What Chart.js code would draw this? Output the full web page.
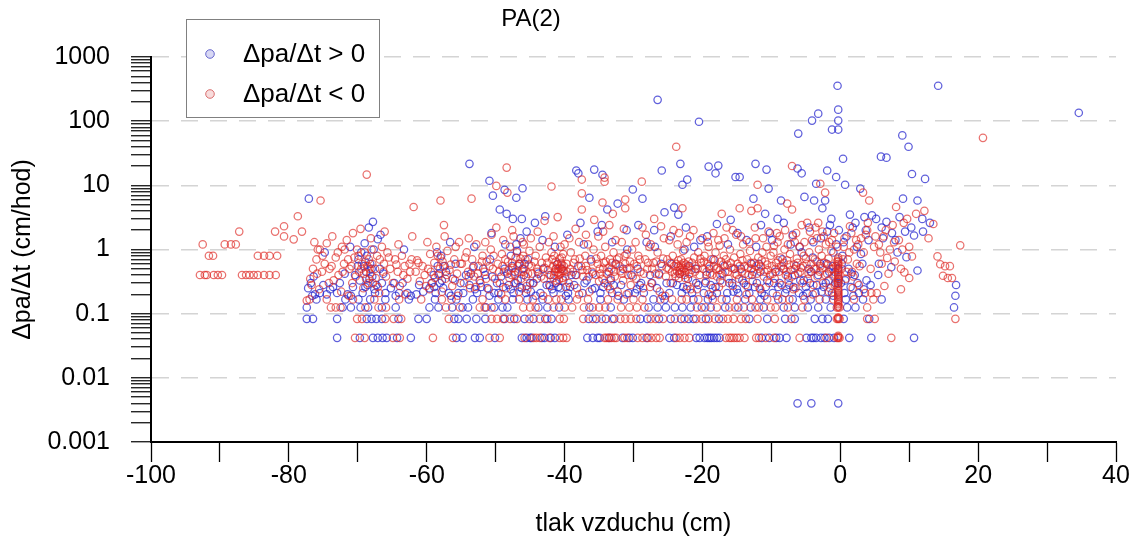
<!DOCTYPE html>
<html>
<head>
<meta charset="utf-8">
<script src="https://cdn.jsdelivr.net/npm/chart.js@4.4.1/dist/chart.umd.min.js"></script>
<style>
body{margin:0;background:#fff;}
#wrap{width:1137px;height:542px;}
</style>
</head>
<body>
<div id="wrap"><canvas id="myChart" width="1137" height="542"></canvas></div>
<script>
const chartTitle = 'PA(2)';
const xAxisTitle = 'tlak vzduchu (cm)';
const yAxisTitle = 'Δpa/Δt (cm/hod)';
const seriesNames = ['Δpa/Δt > 0', 'Δpa/Δt < 0'];
const xMin = -100, xMax = 40, xStep = 10, xLabelStep = 20;
const yDecades = [0.001, 0.01, 0.1, 1, 10, 100, 1000];

// quantised low rows (cm/hod) and the x positions sitting on them
const rowLevels = [0.042, 0.083, 0.125, 0.167];
const blueRowX = [
  [-73.0,-69.7,-67.8,-67.1,-66.4,-65.8,-64.3,-62.3,-55.7,-54.8,-53.0,-52.3,-50.1,-46.2,-45.5,-45.0,-44.8,-43.3,-42.9,-42.0,-41.4,-36.7,-35.9,-35.2,-34.9,-33.5,-31.6,-30.6,-30.1,-28.1,-24.8,-24.1,-20.9,-20.4,-19.7,-19.3,-19.0,-18.7,-18.3,-17.9,-17.5,-11.4,-10.3,-9.3,-8.8,-7.8,-4.9,-4.2,-3.9,-3.5,-2.8,-2.3,-1.6,-0.9,1.3,4.5,10.7],
  [-77.4,-76.5,-73.0,-68.7,-68.0,-67.3,-66.5,-64.1,-61.2,-60.0,-56.0,-55.4,-54.2,-52.8,-51.5,-48.7,-47.3,-45.8,-44.5,-42.8,-41.9,-36.5,-35.4,-34.0,-32.8,-29.0,-28.0,-26.3,-24.6,-23.1,-22.0,-21.3,-19.5,-17.6,-13.2,-10.6,-8.0,-6.6,-3.7,-2.6,-1.8,0.5,4.2],
  [-77.4,-72.2,-71.0,-69.6,-68.5,-66.5,-64.5,-59.6,-58.3,-56.3,-54.8,-54.0,-51.4,-50.2,-49.0,-48.3,-43.8,-42.5,-40.8,-36.4,-33.3,-27.8,-26.5,-25.3,-24.0,-22.9,-21.7,-20.1,-18.8,-16.7,-14.8,-13.0,-11.1,-8.2,-6.6,-4.7,-3.2,-1.4,1.0,2.2,16.5],
  [-76.0,-71.8,-69.9,-68.2,-66.0,-62.6,-58.8,-55.7,-53.3,-49.6,-47.5,-45.4,-43.2,-39.4,-34.8,-31.4,-27.1,-25.5,-21.3,-19.2,-16.5,-13.8,-11.6,-9.0,-6.9,-4.3,-2.1,0.8,3.3,6.0]
];
const redRowX = [
  [-70.4,-69.0,-64.9,-63.9,-59.1,-56.2,-50.9,-49.4,-45.8,-44.5,-44.1,-43.6,-42.2,-40.7,-40.2,-39.7,-34.2,-33.9,-33.6,-33.2,-32.8,-32.5,-31.3,-30.9,-29.4,-28.7,-27.9,-27.4,-26.7,-26.2,-23.8,-23.3,-22.6,-21.9,-16.6,-16.1,-15.8,-15.4,-15.0,-14.6,-13.9,-12.2,-11.8,-10.8,-9.6,-5.9,-2.0,7.4],
  [-70.1,-69.4,-66.0,-64.8,-63.7,-56.8,-50.6,-49.8,-48.9,-47.9,-46.9,-45.1,-43.6,-42.5,-40.7,-40.1,-37.3,-35.9,-34.6,-33.1,-31.9,-31.2,-30.4,-29.6,-27.5,-26.8,-25.7,-24.0,-22.6,-20.9,-20.1,-19.1,-18.2,-17.0,-16.3,-15.5,-14.4,-13.7,-12.0,-9.5,-7.1,3.9,5.0,16.7],
  [-73.9,-73.2,-72.5,-68.9,-67.0,-65.9,-57.2,-55.2,-52.3,-51.6,-50.6,-46.0,-45.0,-44.2,-41.6,-40.0,-38.9,-37.2,-35.9,-35.0,-34.1,-31.8,-30.6,-29.5,-28.4,-20.8,-19.6,-17.9,-16.1,-15.3,-14.0,-12.3,-11.8,-10.1,-9.4,-7.6,-5.5,3.9],
  [-77.0,-74.5,-70.7,-67.6,-64.0,-60.8,-57.8,-56.4,-51.9,-48.6,-46.6,-44.6,-42.4,-41.2,-40.5,-38.2,-36.6,-33.7,-32.3,-30.0,-28.7,-26.1,-24.4,-23.0,-22.3,-20.6,-18.5,-17.2,-15.0,-12.8,-10.6,-8.4,-7.4,-5.2,-3.0,-1.0,2.0,4.8]
];

// dense red column at zero pressure
const redZeroX = -0.3;
const redZeroY = [0.042,0.043,0.045,0.083,0.085,0.088,0.125,0.13,0.14,0.15,0.16,0.17,0.18,0.19,0.2,0.21,0.22,0.23,0.25,0.27,0.29,0.31,0.33,0.35,0.375,0.4,0.42,0.45,0.48,0.52,0.56,0.6,0.65,0.7,0.75];

const blueCloud = [
  [-77.2,0.25],[-76.8,0.3],[-76.2,0.2],[-75.5,0.21],[-74.5,0.2],[-73,0.21],[-72.6,0.3],[-71.5,0.2],[-70.4,0.4],[-70,0.55],[-69.7,0.33],[-69.3,0.21],[-69,1.25],[-68.8,0.45],[-68.6,0.28],[-68.4,2.2],[-68.2,0.6],[-67.9,0.38],[-67.8,2.7],[-67.5,0.21],[-67.1,1.45],[-66.8,0.5],[-66.5,0.3],[-66,0.21],[-65.2,0.25],[-64,0.21],[-63.5,0.3],[-62.8,0.21],[-62.3,0.19],[-61.5,0.2],
  [-59.6,0.25],[-59,0.4],[-58.7,0.21],[-58.4,0.55],[-58.1,0.3],[-57.9,0.8],[-57.6,0.25],[-57.2,0.45],[-56.8,0.21],[-56.2,0.35],[-55.8,0.6],[-55.4,0.21],
  [-54.7,0.21],[-54.3,0.4],[-53.8,0.28],[-53.2,0.55],[-52.7,0.21],[-52.3,0.33],[-51.8,0.5],[-51.2,0.25],[-50.8,0.7],[-50.5,0.38],[-50.2,0.21],[-49.4,4.2],
  [-49.6,0.21],[-49.2,0.38],[-48.7,0.5],[-48.4,3.6],[-48.1,0.28],[-47.8,0.8],[-47.5,3.0],[-47.4,0.21],[-47.2,0.45],[-47,1.2],[-46.8,0.33],[-46.6,0.6],[-46.4,1.5],[-46.2,3.0],[-46.2,0.25],[-45.9,0.4],[-45.6,0.21],[-45.3,0.7],[-45,0.3],
  [-44.9,0.22],[-44.3,2.6],[-44,0.35],[-43.5,0.21],[-43.1,0.5],[-42.8,3.3],[-42.6,0.28],[-42,0.4],[-41.6,0.21],[-41,0.6],[-40.6,0.25],[-40.2,0.33],
  [-39.5,0.21],[-39,0.4],[-38.6,0.28],[-38,0.55],[-37.7,2.6],[-37.4,0.21],[-36.8,0.33],[-36.4,6.4],[-36.2,0.7],[-35.6,0.25],
  [-34.8,0.21],[-34.6,2.4],[-34.2,0.3],[-33.8,4.2],[-33.6,0.45],[-33.1,0.21],[-32.6,0.6],[-32.3,5.2],[-31.8,0.28],[-31,2.0],[-30.7,0.21],[-30.3,0.4],
  [-29.8,0.21],[-29.4,0.5],[-28.9,0.3],[-28.5,0.21],[-28.1,1.3],[-27.6,0.4],[-27,2.0],[-26.6,0.25],[-26,0.6],[-25.5,3.8],[-25.2,0.3],
  [-24.8,0.21],[-24.5,0.6],[-24.1,4.5],[-23.7,0.28],[-23.5,3.5],[-23,0.21],[-22.6,1.0],[-22.1,0.35],[-21.5,0.21],[-21,0.5],[-20.6,0.28],[-20.3,1.4],
  [-19.8,0.21],[-19.4,0.4],[-18.8,0.28],[-18.4,0.7],[-17.9,0.21],[-17.4,0.33],[-16.8,0.55],[-16.4,0.21],[-15.9,2.9],[-15.7,0.3],[-15.3,0.5],[-15,0.24],
  [-14.8,0.21],[-14.4,0.5],[-14,0.3],[-13.6,1.4],[-13.2,0.21],[-12.8,0.4],[-12.4,0.26],[-11.8,0.6],[-11.4,0.21],[-10.9,3.6],[-10.6,0.33],[-10.4,8.9],[-10.2,1.8],[-12.6,6.2],
  [-9.8,0.21],[-9.4,0.45],[-9.1,3.0],[-8.8,0.3],[-8.6,5.8],[-8.4,0.7],[-8,0.21],[-7.6,0.38],[-7.2,1.2],[-6.8,0.26],[-6.4,0.55],[-6,0.21],[-5.6,0.9],[-5.3,0.33],[-5.2,6.6],
  [-4.8,0.21],[-4.6,0.5],[-4.4,0.3],[-4,0.75],[-3.8,5.8],[-3.6,0.21],[-3.5,10.6],[-3.2,0.4],[-2.8,1.5],[-2.6,4.4],[-2.4,0.26],[-2.2,5.8],[-2,0.6],[-1.7,0.33],[-1.5,2.4],[-1.2,0.21],[-1,0.9],[-0.8,0.45],[-0.6,1.2],[-0.4,0.3],[-0.2,2.0],
  [0.1,0.3],[0.3,0.8],[0.6,0.21],[0.9,1.6],[1.2,0.5],[1.5,0.26],[1.8,2.2],[2.1,0.4],[2.4,1.1],[2.7,0.21],[2.9,8.9],[3.2,0.6],[3.5,3.2],[3.8,0.33],[4.1,1.4],
  [5.2,3.0],[5.5,0.4],[6.2,1.5],[6.7,2.7],[7.4,0.53],[7.5,1.8],[8.3,0.9],[9.1,6.2],[9.4,1.9],[9.6,0.76],
  [10.7,1.65],[11.2,5.8],[11.2,0.47],[11.9,3.0],[13,2.6],[16.8,0.28],[16.7,0.19],[12,1.9],
  // second pass through the dense band
  [-76.4,0.38],[-75,0.28],[-73.6,0.26],[-71.9,0.42],[-70.7,0.26],[-69.9,0.7],[-69.5,0.9],[-69.1,0.55],[-68.9,0.26],[-68.7,0.8],[-68.3,0.35],[-68,0.5],[-67.7,1.0],[-67.3,0.28],[-66.3,0.42],[-64.7,0.3],[-61.1,0.28],[-59.3,0.3],[-58.9,0.26],[-58.5,0.9],[-58.2,0.42],[-57.8,0.33],[-57.4,0.55],[-55.1,0.3],[-53.6,0.42],[-52.1,0.26],[-51.5,0.4],[-49.8,0.3],[-48.9,0.26],[-48.3,0.42],[-47.6,0.55],[-47.1,0.3],[-46.9,0.95],[-46.5,0.26],[-46.1,0.5],[-45.8,0.6],[-44.6,0.3],[-43.8,0.42],[-42.2,0.28],[-41.3,0.3],[-40.9,0.26],[-40.4,0.5],[-39.2,0.26],[-38.4,0.4],[-37.1,0.3],[-35.9,0.42],[-34.4,0.26],[-33.3,0.33],[-32.9,0.28],[-31.5,0.5],[-29.1,0.28],[-27.3,0.3],[-26.3,0.42],[-24.3,0.3],[-23.3,0.42],[-22.8,0.26],[-21.9,0.55],[-20.9,0.3],[-19.6,0.3],[-19,0.5],[-18.1,0.26],[-17.1,0.42],[-16.1,0.3],[-14.2,0.33],[-13.4,0.26],[-12.9,0.6],[-12.1,0.3],[-11.6,0.45],[-10.8,0.26],[-9.6,0.3],[-9,0.26],[-8.2,0.5],[-7.4,0.28],[-6.6,0.4],[-5.8,0.33],[-5,0.26],[-4.2,0.45],[-3.4,0.28],[-2.9,0.6],[-2.1,0.3],[-1.6,0.45],[-1.1,0.55],[-0.7,0.3],[-0.3,0.5],[-0.2,0.35],[0.2,0.6],[0.7,0.33],[1.6,0.42],[2.5,0.3],[3,0.85],[4.4,0.28],[5.6,0.6],
  // third pass, upper and lower edges of the band
  [-74.8,0.9],[-71.1,1.1],[-66.7,1.7],[-63.3,1.0],[-56.6,1.3],[-53.1,1.1],[-50.6,1.8],[-48.6,1.2],[-45.5,1.9],[-43.2,1.4],[-41.4,1.1],[-39.6,1.7],[-37.2,1.2],[-35.2,1.9],[-33.1,1.3],[-30.9,1.0],[-29.3,2.4],[-26.9,1.1],[-24.6,1.6],[-22.4,2.2],[-21.2,1.1],[-19.3,1.6],[-17.9,2.5],[-16.3,1.2],[-14.9,1.8],[-12.2,1.1],[-11.5,2.4],[-9.9,1.4],[-8.2,2.6],[-6.9,1.7],[-5.9,1.1],[-4.5,2.2],[-3.9,1.3],[-1.9,1.9],[-1.3,3.0],[0.5,1.3],[1.4,3.5],[2.2,2.6],[3.7,2.0],[4.6,3.4],[6,2.2],[8,1.4],[10.3,2.2],[8.6,3.2],
  [-76.6,0.19],[-74,0.24],[-71,0.19],[-67.6,0.24],[-64.5,0.19],[-60.5,0.22],[-56.5,0.19],[-53,0.24],[-50.9,0.19],[-47.8,0.24],[-44.2,0.19],[-41.8,0.24],[-39.8,0.19],[-36,0.24],[-32.2,0.19],[-29.5,0.24],[-25.8,0.19],[-22.3,0.24],[-18.6,0.19],[-15.5,0.22],[-11,0.19],[-7.8,0.24],[-5.4,0.19],[-2.7,0.22],[-1,0.19],[1.9,0.19],[3.4,0.24],
  // scattered high and low values
  [-77.1,6.2],[-53.8,21.6],[-50.9,11.8],[-50.4,6.9],[-48.7,8.5],[-47,6.4],[-46.1,9.0],[-38.3,17],[-38,15.4],[-35.7,17.6],[-34.5,14.6],[-30.1,8.6],[-28.7,6.2],[-26.5,215],[-25.9,17],[-23.2,21.6],[-22.9,10.2],[-22.2,12.3],[-20.5,98],[-19.1,19.6],[-18.1,15.4],[-17.7,20.3],[-15.2,13.5],[-14.6,13.5],[-12.3,21.6],[-10.7,17.6],[-6.2,18.3],[-5.6,15.4],[-6.1,64],[-4.1,102],[-3.2,131],[-0.4,357],[-0.3,151],[-0.3,102],[-1.2,74],[-0.3,74],[-1.9,17],[-0.6,13.5],[0.4,26],[0.7,10.2],[5.9,28],[6.7,27],[9,60],[9.9,40],[10.4,15],[12.3,12.6],[14.2,357],[34.6,135],[-6.2,0.004],[-4.2,0.004],[-0.3,0.004]
];

const redCloud = [
  // left part, only negative changes
  [-92.9,0.4],[-92.2,0.4],[-91.9,0.4],[-90.9,0.4],[-90.3,0.4],[-89.7,0.4],[-86.8,0.4],[-86.2,0.4],[-85.7,0.4],[-85.1,0.4],[-84.5,0.4],[-83.6,0.4],[-82.8,0.4],[-81.9,0.4],[-91.6,0.8],[-91,0.8],[-84.5,0.8],[-83.6,0.8],[-82.8,0.8],[-81.7,0.8],[-92.5,1.2],[-89.3,1.2],[-88.4,1.2],[-87.7,1.2],[-87.2,1.9],[-82,1.9],[-80.7,2.3],[-80.7,1.6],[-79.3,1.44],[-78.1,1.9],[-78.7,3.3],[-75.4,5.8],[-68.7,14.7],
  [-77.4,0.16],[-76.9,0.35],[-76.5,0.5],[-76,0.7],[-75.8,1.0],[-75.5,1.0],[-75.2,0.45],[-74.8,0.6],[-74.5,1.25],[-74.2,0.3],[-73.8,0.55],[-73.2,0.75],[-72.8,0.4],[-72.4,0.22],[-72,0.6],[-71.9,1.0],[-71.6,1.4],[-71.2,0.5],[-70.8,0.3],[-70.5,0.75],[-70.1,1.0],[-69.8,0.45],[-69.6,2.1],[-69.4,0.6],[-69.2,0.25],[-69,0.9],[-68.8,0.35],[-68.6,0.55],[-68.4,0.7],[-68.2,0.42],[-68,1.0],[-67.8,0.3],[-67.5,0.5],[-67.2,0.8],[-66.9,0.21],[-66.5,1.1],[-66.2,0.6],[-65.9,0.38],[-65.7,0.9],[-65.3,0.5],[-64.9,0.3],[-64.6,0.7],[-64.2,0.45],[-63.9,0.27],[-63.6,0.8],[-63.2,0.55],[-62.8,0.35],[-62.5,0.6],[-62.2,0.7],[-61.9,4.6],[-61.6,0.45],[-61.4,0.68],[-61,0.32],[-60.6,0.55],[-60.3,0.4],
  [-59.8,0.5],[-59.5,0.85],[-59.2,0.3],[-58.9,0.62],[-58.6,1.1],[-58.3,0.4],[-58,0.75],[-58,5.8],[-57.8,0.22],[-57.6,0.55],[-57.5,2.4],[-57.3,0.35],[-57,0.95],[-56.7,0.48],[-56.3,0.27],[-56,0.7],[-55.6,0.42],[-55.3,1.3],
  [-54.9,0.6],[-54.6,0.3],[-54.2,0.9],[-54,0.45],[-53.7,0.25],[-53.5,6.2],[-53.4,0.7],[-53.1,0.38],[-52.8,1.2],[-52.5,0.55],[-52.2,0.3],[-51.9,0.8],[-51.6,0.45],[-51.3,0.65],[-51,0.24],[-50.7,1.0],[-50.4,0.5],[-50.1,0.35],[-49.9,2.2],[-49.9,9.8],
  [-49.7,0.6],[-49.4,0.3],[-49.1,0.85],[-48.8,0.45],[-48.5,0.25],[-48.4,18.9],[-48.3,7.7],[-48.2,0.65],[-47.9,1.1],[-47.7,0.4],[-47.5,0.52],[-47.3,0.3],[-47.1,0.75],[-46.9,0.9],[-46.7,0.45],[-46.5,0.6],[-46.3,0.35],[-46.1,1.3],[-45.9,0.5],[-45.7,0.7],[-45.5,0.27],[-45.3,0.42],[-45.1,0.95],[-47.4,1.6],[-46.6,0.22],[-48,0.36],[-46,0.8],
  [-44.8,0.55],[-44.5,0.3],[-44.2,0.8],[-43.9,0.45],[-43.6,1.1],[-43.3,0.62],[-43,0.35],[-42.9,2.8],[-42.7,0.75],[-42.4,0.48],[-42.1,0.27],[-41.9,0.9],[-41.9,9.6],[-41.7,0.55],[-41.5,0.4],[-41.3,0.65],[-41.1,0.32],[-41,3.2],[-40.9,0.5],[-40.7,0.72],[-40.6,0.42],[-40.4,0.58],[-40.3,0.36],[-40.2,0.85],[-40.1,0.46],[-40,1.2],[-41.2,0.5],[-40.8,0.4],[-40.5,0.5],[-41.4,0.45],[-39.9,0.38],
  [-39.7,0.6],[-39.4,0.3],[-39.1,0.9],[-38.8,0.45],[-38.5,0.7],[-38.2,0.25],[-37.9,1.3],[-37.6,0.55],[-37.5,4.2],[-37.5,12.3],[-37.5,7.5],[-37.3,0.38],[-37,0.8],[-36.7,0.48],[-36.4,0.22],[-36.1,0.65],[-35.8,1.0],[-35.7,2.9],[-35.5,0.4],[-35.2,0.6],[-35,0.32],[-36.9,1.7],
  [-34.9,0.5],[-34.7,0.8],[-34.5,0.35],[-34.5,5.4],[-34.3,0.62],[-34.2,13.2],[-34.2,11.4],[-34.1,1.1],[-33.9,0.42],[-33.7,0.27],[-33.5,2.4],[-33.4,0.7],[-33.2,0.5],[-33,3.6],[-32.9,0.9],[-32.7,0.38],[-32.5,0.58],[-32.3,0.22],[-32.1,0.75],[-31.9,0.46],[-31.7,1.3],[-31.5,0.33],[-31.2,0.6],[-31.2,6.0],[-31.2,4.4],[-31,0.85],[-30.8,0.4],[-30.6,0.52],[-30.4,0.28],[-30.2,1.0],
  [-29.9,0.6],[-29.6,0.35],[-29.3,0.8],[-29,0.45],[-28.8,11.4],[-28.7,2.2],[-28.6,0.25],[-28.3,0.7],[-28,0.5],[-27.7,1.1],[-27.4,0.3],[-27.1,0.62],[-27,3.0],[-26.8,0.42],[-26.5,0.9],[-26.2,0.22],[-25.9,0.55],[-25.6,1.5],[-25.3,0.38],[-25.1,0.7],
  [-24.9,0.5],[-24.6,0.3],[-24.3,0.8],[-24,0.42],[-23.8,40],[-23.8,0.6],[-23.6,1.2],[-23.4,0.36],[-23.3,0.52],[-23.1,0.7],[-23,0.45],[-22.9,4.4],[-22.8,0.95],[-22.6,0.4],[-22.4,0.58],[-22.2,0.27],[-22,0.65],[-21.8,1.6],[-21.6,0.48],[-21.4,0.33],[-21.2,0.75],[-21,0.55],[-20.8,0.24],[-20.6,0.9],[-20.4,0.4],[-20.2,0.62],[-23.2,0.48],[-22.7,0.5],[-23.5,0.55],[-22.5,0.44],[-24.2,2.0],
  [-19.9,0.5],[-19.7,0.8],[-19.5,0.32],[-19.3,0.6],[-19.1,1.1],[-18.9,0.42],[-18.7,0.7],[-18.5,0.25],[-18.3,0.55],[-18.1,0.9],[-17.9,0.38],[-17.7,1.4],[-17.5,0.48],[-17.3,0.65],[-17.2,3.6],[-17.1,0.3],[-16.9,0.8],[-16.7,0.45],[-16.5,2.2],[-16.4,0.58],[-16.2,0.35],[-16,1.0],[-15.8,0.52],[-15.6,0.27],[-15.4,0.75],[-15.2,0.42],[-15.1,1.7],[-18,0.5],
  [-14.9,0.6],[-14.7,0.35],[-14.6,4.4],[-14.5,0.85],[-14.3,0.45],[-14.1,1.2],[-13.9,0.55],[-13.7,0.28],[-13.5,0.7],[-13.3,0.4],[-13.1,0.95],[-12.9,4.0],[-12.9,0.5],[-12.7,0.32],[-12.5,0.62],[-12.3,1.5],[-12.1,0.42],[-12,4.4],[-12,10.2],[-11.9,0.75],[-11.7,0.25],[-11.5,0.55],[-11.3,0.9],[-11.1,0.38],[-10.9,0.65],[-10.7,1.1],[-10.5,0.48],[-10.3,0.3],[-10.1,0.8],
  [-9.9,0.55],[-9.7,0.9],[-9.5,0.35],[-9.3,0.62],[-9.1,1.3],[-8.9,0.45],[-8.7,0.75],[-8.5,0.28],[-8.3,0.5],[-8.1,1.0],[-7.9,0.4],[-7.7,5.2],[-7.7,0.68],[-7.5,0.33],[-7.3,0.85],[-7.1,0.48],[-7,4.2],[-7,20],[-6.9,1.6],[-6.7,0.58],[-6.5,0.25],[-6.3,0.72],[-6.1,0.42],[-5.9,1.1],[-5.7,0.52],[-5.5,0.3],[-5.3,0.8],
  [-4.9,0.6],[-4.7,0.35],[-4.5,0.9],[-4.3,0.45],[-4.1,1.4],[-3.9,0.28],[-3.7,0.7],[-3.6,2.2],[-3.5,0.5],[-3.3,0.38],[-3.1,1.0],[-2.9,10.6],[-2.9,0.55],[-2.7,0.8],[-2.5,0.3],[-2.3,0.62],[-2.2,7.7],[-2.1,1.2],[-1.9,0.42],[-1.7,0.72],[-1.5,0.25],[-1.3,0.95],[-1.1,0.5],[-0.9,1.8],[-0.7,0.4],[-0.5,0.65],
  [-0.5,0.083],[-0.1,0.083],[-0.5,0.042],[-0.1,0.042],[-0.5,0.125],[-0.1,0.125],
  [0.2,0.5],[0.5,1.1],[0.8,0.35],[1.1,0.7],[1.4,2.3],[1.7,0.45],[2,1.0],[2.4,0.6],[2.7,0.28],[3,1.5],[3.3,7.7],[3.6,0.21],[3.9,2.0],[4.2,5.8],[4.5,0.21],
  [5.3,0.21],[5.6,1.2],[6,0.6],[6.4,0.27],[6.8,0.74],[7.2,1.0],[7.6,2.4],[8.1,4.6],[8.8,0.5],[8.8,0.24],[9.3,0.44],[9.7,3.0],[10,0.36],[10,1.1],
  [10.4,0.78],[11,3.6],[12.2,4.0],[12.8,1.5],[13.5,2.5],[14.1,0.78],[14.5,0.59],[15.2,0.55],[15.9,0.55],[14.9,0.39],[15.6,0.36],[16.2,0.36],[17.4,1.16],[20.7,55],
  // second pass through the dense band
  [-76.7,0.28],[-75.9,0.42],[-75.1,0.8],[-74.1,0.5],[-73.5,0.33],[-72.9,0.9],[-72.2,0.45],[-71.4,0.7],[-70.9,0.55],[-70.3,0.38],[-69.9,0.8],[-69.5,0.5],[-69.1,0.42],[-68.9,0.65],[-68.5,0.3],[-68.3,0.5],[-67.9,0.6],[-67.4,0.36],[-66.8,0.7],[-66.3,0.45],[-65.5,0.75],[-64.4,0.58],[-63.4,0.4],[-62.4,0.45],[-61.2,0.62],[-60.1,0.27],
  [-59.4,0.45],[-58.8,0.36],[-58.4,0.8],[-58.1,0.5],[-57.7,0.65],[-57.1,0.4],[-56.5,0.58],[-55.9,0.33],[-55.1,0.6],[-54.4,0.75],[-53.9,0.38],[-53.3,0.52],[-52.6,0.42],[-52,0.65],[-51.4,0.35],[-50.9,0.55],[-50.3,0.8],
  [-49.5,0.45],[-49,0.55],[-48.6,0.7],[-48.1,0.48],[-47.6,0.62],[-47.2,0.4],[-46.8,0.55],[-46.4,0.72],[-46,0.45],[-45.6,0.38],[-45.2,0.58],[-44.7,0.42],[-44.4,0.65],[-44,0.5],[-43.4,0.38],[-42.9,0.52],[-42.5,0.62],[-42.2,0.4],[-41.8,0.7],[-41.6,0.36],[-41.3,0.5],[-41.1,0.58],[-40.9,0.44],[-40.7,0.52],[-40.5,0.62],[-40.3,0.46],[-40.1,0.55],[-40.8,0.34],[-41.5,0.8],[-40.4,0.75],
  [-39.6,0.45],[-39.2,0.5],[-38.7,0.62],[-38.3,0.4],[-37.8,0.72],[-37.4,0.48],[-36.9,0.55],[-36.5,0.38],[-36,0.45],[-35.4,0.72],[-34.8,0.42],[-34.4,0.5],[-34,0.65],[-33.6,0.52],[-33.3,0.36],[-33.1,0.62],[-32.8,0.45],[-32.4,0.7],[-32,0.55],[-31.6,0.42],[-31.3,0.8],[-30.9,0.5],[-30.5,0.65],[-30.1,0.38],
  [-29.5,0.55],[-29.1,0.7],[-28.5,0.42],[-27.9,0.62],[-27.3,0.5],[-26.7,0.65],[-26.3,0.4],[-25.7,0.72],[-25.2,0.52],[-24.7,0.62],[-24.4,0.45],[-24.1,0.55],[-23.9,0.38],[-23.7,0.46],[-23.5,0.68],[-23.3,0.42],[-23.1,0.58],[-22.9,0.52],[-22.7,0.62],[-22.5,0.36],[-22.3,0.48],[-22.1,0.55],[-21.9,0.42],[-21.5,0.62],[-21.1,0.45],[-20.7,0.5],[-20.3,0.72],
  [-19.8,0.65],[-19.4,0.45],[-19,0.55],[-18.6,0.4],[-18.2,0.68],[-17.8,0.52],[-17.4,0.4],[-17,0.58],[-16.6,0.7],[-16.3,0.45],[-15.9,0.62],[-15.5,0.5],[-15,0.4],[-14.6,0.55],[-14.2,0.68],[-13.8,0.42],[-13.4,0.52],[-13,0.62],[-12.6,0.45],[-12.2,0.55],[-11.8,0.5],[-11.4,0.68],[-11,0.45],[-10.6,0.58],[-10.2,0.4],
  [-9.8,0.42],[-9.4,0.5],[-9,0.68],[-8.6,0.55],[-8.2,0.62],[-7.8,0.45],[-7.4,0.58],[-7,0.38],[-6.6,0.5],[-6.2,0.62],[-5.8,0.45],[-5.4,0.55],[-5,0.72],[-4.6,0.42],[-4.2,0.6],[-3.8,0.5],[-3.4,0.65],[-3,0.45],[-2.6,0.52],[-2.2,0.4],[-1.8,0.58],[-1.4,0.5],[-1,0.38],[-0.6,0.55],[-0.8,0.28],[-1.6,1.3],[-2.4,1.6],[-3.2,2.6],[-4.4,1.9],[-5.6,2.4],[-6.6,1.3],[-8,2.0],[-9.2,1.8],
  [0.4,0.7],[0.9,0.45],[1.3,0.9],[1.9,0.38],[2.3,1.4],[2.8,0.55],[3.4,0.9],[3.7,1.7],[4.4,0.5],[4.9,1.1],[5.8,0.9],[6.3,1.6],[7,0.42],[7.9,0.65],[8.5,1.4],[9.2,2.6],
  // third pass, upper and lower edges of the band
  [-76.3,1.3],[-73.7,1.6],[-72.3,1.1],[-70.7,1.8],[-68.1,1.5],[-66.1,1.9],[-64.1,1.2],[-62.1,1.6],[-59.9,1.3],[-57.4,1.6],[-55.8,1.1],[-53.9,1.5],[-51.5,1.3],[-50.6,1.7],[-48.9,1.4],[-47.6,2.0],[-45.9,1.2],[-44.9,1.5],[-43.9,1.9],[-42.3,1.3],[-41.6,1.6],[-40.6,1.1],[-39.3,1.5],[-38.4,2.1],[-36.6,1.2],[-35.1,1.6],[-34.4,1.9],[-32.6,1.4],[-31.4,2.1],[-29.7,1.3],[-28.2,1.7],[-27.5,1.2],[-26,2.3],[-24.8,1.4],[-23.4,1.8],[-22.3,1.3],[-21.3,2.0],[-20,1.5],[-19.2,1.3],[-18.4,1.8],[-17.5,1.15],[-16.8,1.5],[-15.6,2.0],[-14.4,1.6],[-13.2,1.3],[-12.4,2.2],[-11.2,1.5],[-10.4,1.9],[-9.6,1.15],[-8.8,1.6],[-7.6,1.2],[-6.4,1.8],[-5.2,1.3],[-4.8,2.6],[-3.4,1.5],[-2.6,1.9],[-1.2,1.4],[-0.4,1.1],[0.6,1.5],[1.6,1.8],[2.6,1.2],[4,2.6],[5.1,1.6],[6.6,2.0],[7.8,1.3],[9,1.0],
  [-75.6,0.24],[-71.3,0.19],[-67.1,0.26],[-63.1,0.2],[-59.6,0.24],[-55.5,0.19],[-52.9,0.26],[-49.2,0.2],[-45.4,0.24],[-43.1,0.19],[-39.8,0.26],[-37.9,0.2],[-33.4,0.24],[-31,0.2],[-27.6,0.26],[-25.4,0.19],[-21.7,0.24],[-19.1,0.2],[-17.6,0.26],[-13.6,0.2],[-11.6,0.24],[-9.2,0.19],[-6.8,0.24],[-4,0.2],[-1.7,0.22],[1.8,0.25]
];

const FONT = '"Liberation Sans", Arial, sans-serif';
const blueLine = 'rgba(35,35,205,0.72)';
const redLine = 'rgba(222,40,35,0.66)';

function rowPoints(rows) {
  const pts = [];
  rows.forEach(function(xs, i) {
    xs.forEach(function(x) { pts.push({x: x, y: rowLevels[i]}); });
  });
  return pts;
}
function pairPoints(list) {
  return list.map(function(p) { return {x: p[0], y: p[1]}; });
}

const bluePts = rowPoints(blueRowX).concat(pairPoints(blueCloud));
const redPts = rowPoints(redRowX)
  .concat(redZeroY.map(function(y) { return {x: redZeroX, y: y}; }))
  .concat(pairPoints(redCloud));

// log ticks 1..9 in every decade, labels only on decades
const yTicks = [];
yDecades.forEach(function(d, i) {
  for (let k = 1; k <= 9; k++) {
    if (i === yDecades.length - 1 && k > 1) break;
    yTicks.push({value: d * k, major: k === 1});
  }
});

const decor = {
  id: 'decor',
  afterDraw(chart) {
    const ctx = chart.ctx;
    ctx.save();
    ctx.fillStyle = '#000';
    ctx.font = '24px ' + FONT;
    ctx.textAlign = 'center';
    ctx.textBaseline = 'middle';
    ctx.fillText(chartTitle, 531, 19);

    // legend box
    ctx.fillStyle = '#fff';
    ctx.fillRect(186, 19, 193, 98);
    ctx.strokeStyle = '#808080';
    ctx.lineWidth = 1;
    ctx.strokeRect(186.5, 19.5, 193, 98);
    const rows = [
      {y: 54, fill: 'rgba(200,200,240,0.7)', line: 'rgba(60,60,190,0.75)'},
      {y: 94, fill: 'rgba(245,205,205,0.7)', line: 'rgba(205,70,70,0.75)'}
    ];
    rows.forEach(function(r, i) {
      ctx.beginPath();
      ctx.arc(210, r.y, 4.3, 0, Math.PI * 2);
      ctx.fillStyle = r.fill;
      ctx.fill();
      ctx.strokeStyle = r.line;
      ctx.stroke();
      ctx.fillStyle = '#000';
      ctx.font = '26px ' + FONT;
      ctx.textAlign = 'left';
      ctx.fillText(seriesNames[i], 243, r.y + 1);
    });
    ctx.restore();
  }
};

const config = {
  type: 'scatter',
  data: {
    datasets: [{
      label: seriesNames[0],
      data: bluePts,
      borderColor: blueLine,
      backgroundColor: 'rgba(0,0,0,0)',
      pointRadius: 3.7,
      pointBorderWidth: 1.25,
      order: 2
    }, {
      label: seriesNames[1],
      data: redPts,
      borderColor: redLine,
      backgroundColor: 'rgba(0,0,0,0)',
      pointRadius: 3.7,
      pointBorderWidth: 1.25,
      order: 1
    }]
  },
  options: {
    responsive: false,
    animation: false,
    events: [],
    layout: { padding: { left: 0, right: 21, top: 57, bottom: 0 } },
    plugins: {
      legend: { display: false },
      tooltip: { enabled: false },
      title: { display: false }
    },
    scales: {
      x: {
        type: 'linear',
        min: xMin,
        max: xMax,
        afterFit(s) { s.height = 100; s.paddingLeft = 0; s.paddingRight = 0; },
        ticks: {
          stepSize: xStep,
          autoSkip: false,
          maxRotation: 0,
          padding: -1,
          color: '#000',
          font: { size: 25, family: FONT },
          callback: function(v) { return v % xLabelStep === 0 ? String(v) : ''; }
        },
        grid: { drawOnChartArea: false, tickLength: 20, tickColor: '#000', tickWidth: 1.3 },
        border: { color: '#000', width: 2 },
        title: { display: true, text: xAxisTitle, color: '#000', font: { size: 25, family: FONT }, padding: { top: 0, bottom: 3 } }
      },
      y: {
        type: 'logarithmic',
        min: 0.001,
        max: 1000,
        afterFit(s) { s.width = 151; },
        afterBuildTicks(s) { s.ticks = yTicks.map(function(t) { return {value: t.value, major: t.major}; }); },
        ticks: {
          autoSkip: false,
          padding: 21,
          color: '#000',
          font: { size: 25, family: FONT },
          callback: function(v, i, ticks) { return ticks[i].major ? String(v) : ''; }
        },
        grid: {
          color: function(c) { return (c.tick && c.tick.major && c.tick.value > 0.001) ? '#d4d4d4' : 'rgba(0,0,0,0)'; },
          lineWidth: 1.5,
          tickColor: '#000',
          tickLength: 20,
          tickWidth: 1.2
        },
        border: { color: '#000', width: 2, dash: [17, 12] },
        title: { display: true, text: yAxisTitle, color: '#000', font: { size: 25, family: FONT }, padding: { top: 8, bottom: 0 } }
      }
    }
  },
  plugins: [decor]
};

const myChart = new Chart(document.getElementById('myChart'), config);
</script>
</body>
</html>
